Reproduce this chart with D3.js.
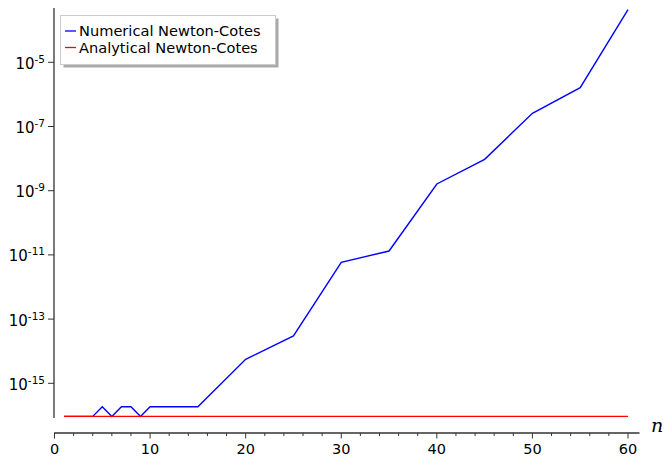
<!DOCTYPE html>
<html>
<head>
<meta charset="utf-8">
<script src="https://cdn.jsdelivr.net/npm/d3@7"></script>
<style>
  body { margin: 0; background: #fff; }
  svg { display: block; font-family: "DejaVu Sans", sans-serif; }
</style>
</head>
<body>
<div id="chart"></div>
<script>
// values
var nValues = [1, 2, 3, 4, 5, 6, 7, 8, 9, 10, 15, 20, 25, 30, 35, 40, 45, 50, 55, 60];
var numerical = [9.3e-17, 9.3e-17, 9.3e-17, 9.3e-17, 1.85e-16, 9.3e-17, 1.85e-16, 1.85e-16, 9.3e-17, 1.85e-16,
                 1.85e-16, 5.6e-15, 3.0e-14, 5.9e-12, 1.32e-11, 1.62e-9, 9.5e-9, 2.57e-7, 1.62e-6, 4.4e-4];
var analytical = [9.3e-17, 9.3e-17, 9.3e-17, 9.3e-17, 9.3e-17, 9.3e-17, 9.3e-17, 9.3e-17, 9.3e-17, 9.3e-17,
                  9.3e-17, 9.3e-17, 9.3e-17, 9.3e-17, 9.3e-17, 9.3e-17, 9.3e-17, 9.3e-17, 9.3e-17, 9.3e-17];
var xTicks = [0, 10, 20, 30, 40, 50, 60];
var yTickExps = [-15, -13, -11, -9, -7, -5];
var seriesNames = ["Numerical Newton-Cotes", "Analytical Newton-Cotes"];
var seriesColors = ["#0000ff", "#ff0000"];

var width = 667, height = 457;

var svg = d3.select("#chart")
    .append("svg")
    .attr("width", width)
    .attr("height", height);

//Define scales
var x = d3.scaleLinear().domain([0, 60]).range([54.5, 628]);
var y = d3.scaleLog().domain([1e-15, 1e-5]).range([383.3, 62.3]);

var axisColor = "#333";
var axisY = 433; // x axis sits below the data

//y axis line spans the data extent
var yMin = d3.min(analytical.concat(numerical)), yMax = d3.max(numerical);
svg.append("line")
    .attr("x1", 54).attr("x2", 54)
    .attr("y1", y(yMax) - 1.5).attr("y2", y(yMin) + 1.5)
    .attr("stroke", axisColor).attr("stroke-width", 1.3);

//y ticks and labels
yTickExps.forEach(function (e) {
    var ty = y(Math.pow(10, e));
    svg.append("line")
        .attr("x1", 48).attr("x2", 54)
        .attr("y1", ty).attr("y2", ty)
        .attr("stroke", axisColor).attr("stroke-width", 1);
    var t = svg.append("text")
        .attr("x", 45).attr("y", ty + 6.5)
        .attr("text-anchor", "end")
        .style("font-size", "15px")
        .attr("fill", "#000");
    t.append("tspan").text("10");
    t.append("tspan").attr("dy", -6).style("font-size", "10.5px").text("-" + Math.abs(e));
});

//x axis line, major and minor ticks
svg.append("line")
    .attr("x1", 54).attr("x2", x(61.2))
    .attr("y1", axisY).attr("y2", axisY)
    .attr("stroke", axisColor).attr("stroke-width", 1.3);

d3.range(0, 61, 2).forEach(function (v) {
    var major = v % 10 === 0;
    svg.append("line")
        .attr("x1", x(v)).attr("x2", x(v))
        .attr("y1", axisY).attr("y2", axisY + (major ? 5.5 : 3))
        .attr("stroke", axisColor).attr("stroke-width", 1);
});

xTicks.forEach(function (v) {
    svg.append("text")
        .attr("x", x(v)).attr("y", 453.5)
        .attr("text-anchor", "middle")
        .style("font-size", "14.5px")
        .text(v);
});

//axis label n
svg.append("text")
    .attr("x", 651).attr("y", 431.7)
    .style("font-family", "'DejaVu Serif', serif")
    .style("font-style", "italic")
    .style("font-size", "19px")
    .text("n");

//lines
var line = d3.line()
    .x(function (d) { return x(d[0]); })
    .y(function (d) { return y(d[1]); });

[numerical, analytical].forEach(function (vals, i) {
    svg.append("path")
        .datum(nValues.map(function (n, j) { return [n, vals[j]]; }))
        .attr("d", line)
        .attr("fill", "none")
        .attr("stroke", seriesColors[i])
        .attr("stroke-width", 1.4);
});

//legend with shadow
var lg = svg.append("g").attr("transform", "translate(60,15)");
lg.append("rect")
    .attr("x", 3.5).attr("y", 3.5).attr("width", 215).attr("height", 49)
    .attr("fill", "#aaa");
lg.append("rect")
    .attr("x", 0.5).attr("y", 0.5).attr("width", 215).attr("height", 49)
    .attr("fill", "#fff").attr("stroke", "#ccc").attr("stroke-width", 1);

seriesNames.forEach(function (name, i) {
    var ly = 16 + i * 16.5;
    lg.append("line")
        .attr("x1", 5).attr("x2", 16)
        .attr("y1", ly).attr("y2", ly)
        .attr("stroke", seriesColors[i]).attr("stroke-width", 1.3);
    lg.append("text")
        .attr("x", 19).attr("y", ly + 5)
        .style("font-size", "14.6px")
        .text(name);
});
</script>
</body>
</html>
